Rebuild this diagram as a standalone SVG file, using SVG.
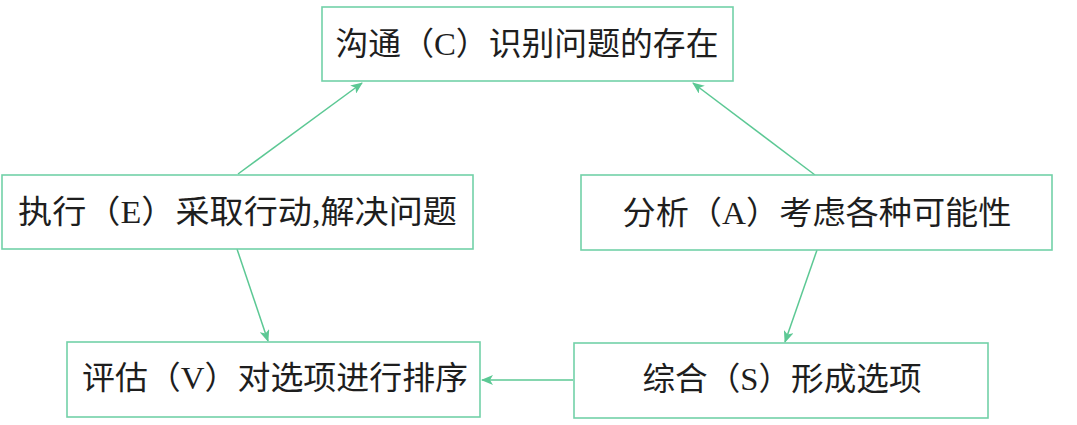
<svg xmlns="http://www.w3.org/2000/svg" width="1077" height="425" viewBox="0 0 1077 425">
<defs>
<style>
.box{fill:#fff;stroke:#72d1a8;stroke-width:1.6}
.lbl{font-family:"Liberation Serif","Noto Sans CJK SC",serif;font-size:32px;fill:#1e1e1e;text-anchor:middle;dominant-baseline:central}
.conn{stroke:#5cc894;stroke-width:1.5;fill:none;marker-end:url(#ah)}
</style>
<marker id="ah" markerWidth="12" markerHeight="10" refX="11" refY="5" orient="auto" markerUnits="userSpaceOnUse">
<path d="M0,0 L12,5 L0,10 L3,5 z" fill="#5cc894"/>
</marker>
</defs>
<rect width="1077" height="425" fill="#fff"/>
<g id="connectors">
<line class="conn" x1="238" y1="174" x2="362" y2="83"/>
<line class="conn" x1="815" y1="175" x2="693" y2="83"/>
<line class="conn" x1="237" y1="249" x2="268" y2="341"/>
<line class="conn" x1="817" y1="250" x2="785" y2="342"/>
<line class="conn" x1="573" y1="380" x2="482" y2="380"/>
</g>
<g id="node-C">
<rect class="box" x="322" y="7" width="411" height="74"/>
<text class="lbl" x="527" y="44" textLength="383" lengthAdjust="spacingAndGlyphs">沟通（C）识别问题的存在</text>
</g>
<g id="node-E">
<rect class="box" x="2" y="175" width="471" height="74"/>
<text class="lbl" x="237.5" y="212" textLength="439" lengthAdjust="spacingAndGlyphs">执行（E）采取行动,解决问题</text>
</g>
<g id="node-A">
<rect class="box" x="581" y="175" width="471" height="75"/>
<text class="lbl" x="817" y="213" textLength="389" lengthAdjust="spacingAndGlyphs">分析（A）考虑各种可能性</text>
</g>
<g id="node-V">
<rect class="box" x="67" y="342" width="413" height="75"/>
<text class="lbl" x="275" y="378" textLength="386" lengthAdjust="spacingAndGlyphs">评估（V）对选项进行排序</text>
</g>
<g id="node-S">
<rect class="box" x="574" y="343" width="414" height="75"/>
<text class="lbl" x="782" y="379" textLength="279" lengthAdjust="spacingAndGlyphs">综合（S）形成选项</text>
</g>
</svg>
